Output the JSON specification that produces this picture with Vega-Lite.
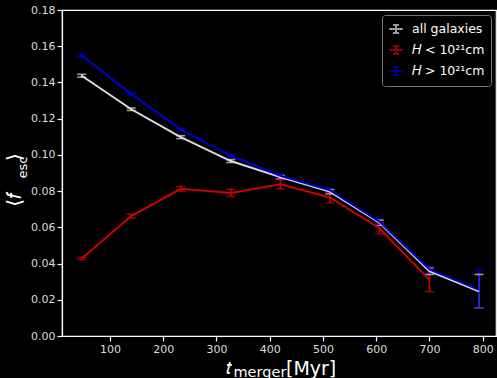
{
  "$schema": "https://vega.github.io/schema/vega-lite/v6.json",
  "width": 434,
  "height": 326,
  "autosize": {"type": "none"},
  "padding": {"left": 62, "top": 10, "right": 1, "bottom": 42},
  "background": "#000000",
  "title": {"text": "[Myr]", "orient": "bottom", "anchor": "start", "frame": "group", "dx": 224, "offset": -4,
    "baseline": "alphabetic", "font": "DejaVu Sans", "fontSize": 19, "fontWeight": "normal", "color": "#ffffff"},
  "config": {
    "font": "DejaVu Sans",
    "view": {"stroke": "#ffffff", "strokeWidth": 1.2},
    "axis": {
      "domainColor": "#ffffff", "domainWidth": 1.2, "tickColor": "#ffffff", "tickSize": 5, "tickWidth": 1.2,
      "labelColor": "#dddddd", "labelFont": "DejaVu Sans", "labelFontSize": 11, "grid": false, "labelOverlap": false,
      "titleColor": "#ffffff", "titleFont": "DejaVu Sans", "titleFontWeight": "normal"
    },
    "legend": {
      "orient": "top-right", "offset": 5, "fillColor": "#000000", "strokeColor": "#777777", "cornerRadius": 3,
      "padding": 6, "labelColor": "#ffffff", "labelFont": "DejaVu Sans", "labelFontSize": 12.5,
      "symbolStrokeWidth": 2, "symbolSize": 180, "rowPadding": 3, "labelOffset": 8,
      "symbolType": "M-1,0H1M0,-0.6V0.6M-0.45,-0.6H0.45M-0.45,0.6H0.45"
    }
  },
  "resolve": {"axis": {"x": "independent", "y": "independent"}},
  "data": {"values": [
    {"series": "all galaxies", "t": 47, "f": 0.1437, "lo": 0.1429, "hi": 0.1445},
    {"series": "all galaxies", "t": 140, "f": 0.1252, "lo": 0.1245, "hi": 0.1259},
    {"series": "all galaxies", "t": 233, "f": 0.1098, "lo": 0.1090, "hi": 0.1106},
    {"series": "all galaxies", "t": 327, "f": 0.0966, "lo": 0.0958, "hi": 0.0974},
    {"series": "all galaxies", "t": 420, "f": 0.0877, "lo": 0.0867, "hi": 0.0887},
    {"series": "all galaxies", "t": 513, "f": 0.0797, "lo": 0.0785, "hi": 0.0809},
    {"series": "all galaxies", "t": 606, "f": 0.0626, "lo": 0.0612, "hi": 0.0640},
    {"series": "all galaxies", "t": 700, "f": 0.0358, "lo": 0.0340, "hi": 0.0376},
    {"series": "all galaxies", "t": 793, "f": 0.0247, "lo": 0.0155, "hi": 0.0340},
    {"series": "H<", "t": 47, "f": 0.0428, "lo": 0.0422, "hi": 0.0434},
    {"series": "H<", "t": 140, "f": 0.0662, "lo": 0.0651, "hi": 0.0673},
    {"series": "H<", "t": 233, "f": 0.0813, "lo": 0.0800, "hi": 0.0826},
    {"series": "H<", "t": 327, "f": 0.0790, "lo": 0.0770, "hi": 0.0810},
    {"series": "H<", "t": 420, "f": 0.0838, "lo": 0.0813, "hi": 0.0863},
    {"series": "H<", "t": 513, "f": 0.0765, "lo": 0.0735, "hi": 0.0795},
    {"series": "H<", "t": 606, "f": 0.0595, "lo": 0.0565, "hi": 0.0625},
    {"series": "H<", "t": 700, "f": 0.0310, "lo": 0.0245, "hi": 0.0375},
    {"series": "H>", "t": 47, "f": 0.1547, "lo": 0.1542, "hi": 0.1552},
    {"series": "H>", "t": 140, "f": 0.1337, "lo": 0.1331, "hi": 0.1343},
    {"series": "H>", "t": 233, "f": 0.1140, "lo": 0.1133, "hi": 0.1147},
    {"series": "H>", "t": 327, "f": 0.0995, "lo": 0.0987, "hi": 0.1003},
    {"series": "H>", "t": 420, "f": 0.0885, "lo": 0.0875, "hi": 0.0895},
    {"series": "H>", "t": 513, "f": 0.0805, "lo": 0.0793, "hi": 0.0817},
    {"series": "H>", "t": 606, "f": 0.0632, "lo": 0.0616, "hi": 0.0648},
    {"series": "H>", "t": 700, "f": 0.0368, "lo": 0.0350, "hi": 0.0386},
    {"series": "H>", "t": 793, "f": 0.0255, "lo": 0.0155, "hi": 0.0363}
  ]},
  "encoding": {
    "color": {"field": "series", "type": "nominal",
      "scale": {"domain": ["all galaxies", "H<", "H>"], "range": ["#dddddd", "#cc0000", "#0000cc"]},
      "legend": {"title": null, "labelExpr": "datum.label == 'H<' ? '𝐻 < 10²¹cm' : datum.label == 'H>' ? '𝐻 > 10²¹cm' : datum.label"}}
  },
  "layer": [
    {
      "mark": {"type": "rule", "strokeWidth": 1.6},
      "encoding": {
        "x": {"field": "t", "type": "quantitative", "scale": {"domain": [10, 825], "nice": false, "zero": false},
          "axis": {"values": [100, 200, 300, 400, 500, 600, 700, 800], "title": "𝑡",
            "titleFontSize": 19, "titleAlign": "left", "titleBaseline": "alphabetic", "titleX": 163, "titleY": 37}},
        "y": {"field": "lo", "type": "quantitative", "scale": {"domain": [0, 0.18], "nice": false},
          "axis": {"values": [0, 0.02, 0.04, 0.06, 0.08, 0.1, 0.12, 0.14, 0.16, 0.18], "format": ".2f",
            "title": "⟨𝑓\u00a0\u00a0\u00a0\u00a0\u00a0⟩", "titleFontSize": 20, "titleAngle": 270, "titleAlign": "center", "titleBaseline": "alphabetic",
            "titleX": -42, "titleY": 169.5}},
        "y2": {"field": "hi"}
      }
    },
    {
      "mark": {"type": "tick", "orient": "horizontal", "size": 9, "thickness": 1.6},
      "encoding": {
        "x": {"field": "t", "type": "quantitative", "scale": {"domain": [10, 825], "nice": false, "zero": false},
          "axis": {"orient": "top", "domain": false, "ticks": false, "labels": false, "title": "merger",
            "titleFontSize": 14.5, "titleAlign": "left", "titleBaseline": "alphabetic", "titleX": 171, "titleY": 366}},
        "y": {"field": "lo", "type": "quantitative", "scale": {"domain": [0, 0.18], "nice": false},
          "axis": {"orient": "right", "domain": false, "ticks": false, "labels": false, "title": "esc",
            "titleFontSize": 13, "titleAngle": 270, "titleAlign": "center", "titleBaseline": "alphabetic",
            "titleX": -470, "titleY": 157}}
      }
    },
    {
      "mark": {"type": "tick", "orient": "horizontal", "size": 9, "thickness": 1.6},
      "encoding": {
        "x": {"field": "t", "type": "quantitative", "scale": {"domain": [10, 825], "nice": false, "zero": false}, "axis": null},
        "y": {"field": "hi", "type": "quantitative", "scale": {"domain": [0, 0.18], "nice": false}, "axis": null}
      }
    },
    {
      "mark": {"type": "line", "strokeWidth": 2},
      "encoding": {
        "x": {"field": "t", "type": "quantitative", "scale": {"domain": [10, 825], "nice": false, "zero": false}, "axis": null},
        "y": {"field": "f", "type": "quantitative", "scale": {"domain": [0, 0.18], "nice": false}, "axis": null}
      }
    }
  ]
}
